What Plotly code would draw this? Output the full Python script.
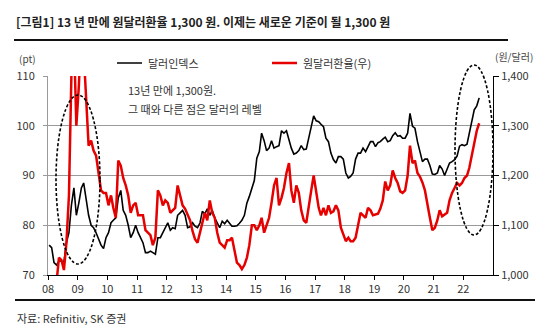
import pandas as pd
import plotly.graph_objects as go

# ---------------- data (monthly) ----------------
start_month = "2008-01-01"

dollar_index = [
    76.0, 75.5, 72.5, 72.0, 72.8, 72.8, 72.6, 76.5, 78.5, 84.0, 87.5, 82.0,   # 2008
    84.5, 87.5, 88.5, 85.0, 82.0, 80.0, 79.5, 78.5, 77.0, 76.0, 75.3, 77.5,   # 2009
    78.5, 80.5, 81.0, 81.5, 85.5, 87.0, 83.0, 82.0, 80.0, 77.5, 78.5, 80.0,   # 2010
    78.5, 77.5, 76.5, 74.5, 74.5, 74.8, 74.5, 74.2, 77.5, 77.5, 78.5, 79.5,   # 2011
    80.5, 79.0, 79.5, 79.3, 82.0, 82.5, 83.0, 82.0, 79.5, 79.7, 80.5, 79.8,   # 2012
    79.5, 80.5, 82.8, 82.3, 83.3, 82.0, 83.0, 81.5, 80.5, 79.5, 80.8, 80.3,   # 2013
    81.0, 80.3, 79.8, 79.8, 79.9, 80.4, 81.0, 82.0, 84.5, 85.8, 87.5, 89.0,   # 2014
    93.5, 94.8, 98.5, 97.0, 95.0, 95.5, 97.0, 95.5, 95.8, 96.0, 99.0, 98.5,   # 2015
    99.0, 97.0, 95.5, 94.3, 94.5, 95.0, 96.0, 95.2, 95.3, 97.5, 99.5, 102.0,  # 2016
    101.0, 100.8, 100.3, 99.8, 97.5, 96.8, 94.5, 93.2, 92.5, 93.8, 93.8, 93.3, # 2017
    90.5, 89.5, 89.8, 90.5, 93.3, 94.5, 94.5, 95.5, 94.8, 95.8, 96.8, 96.8,   # 2018
    95.8, 96.6, 96.8, 97.3, 97.7, 96.8, 97.0, 98.0, 98.6, 97.9, 98.0, 97.5,   # 2019
    97.5, 98.5, 102.5, 99.9, 99.5, 96.8, 95.0, 92.8, 93.3, 93.3, 92.0, 90.3,  # 2020
    90.2, 90.5, 92.0, 91.3, 90.0, 91.2, 92.5, 92.8, 93.2, 93.9, 95.9, 96.2,   # 2021
    96.0, 96.3, 98.3, 100.5, 103.2, 104.0, 105.6,                             # 2022
]

krw_usd = [
    942, 945, 990, 985, 1035, 1030, 1010, 1065, 1160, 1400, 1480, 1300,       # 2008
    1380, 1500, 1450, 1340, 1260, 1270, 1250, 1240, 1200, 1170, 1165, 1165,   # 2009
    1140, 1160, 1135, 1115, 1230, 1220, 1195, 1180, 1160, 1125, 1140, 1145,   # 2010
    1120, 1120, 1120, 1090, 1085, 1080, 1060, 1075, 1170, 1160, 1140, 1150,   # 2011
    1145, 1125, 1130, 1135, 1180, 1160, 1140, 1133, 1120, 1110, 1088, 1072,   # 2012
    1065, 1085, 1105, 1125, 1110, 1150, 1125, 1115, 1085, 1065, 1060, 1055,   # 2013
    1070, 1070, 1075, 1045, 1025, 1020, 1012, 1020, 1035, 1060, 1100, 1100,   # 2014
    1090, 1100, 1115, 1085, 1100, 1115, 1145, 1180, 1195, 1140, 1155, 1175,   # 2015
    1205, 1225, 1170, 1145, 1180, 1165, 1130, 1110, 1105, 1140, 1170, 1200,   # 2016
    1165, 1135, 1120, 1135, 1120, 1140, 1125, 1128, 1140, 1130, 1095, 1080,   # 2017
    1068, 1075, 1068, 1068, 1075, 1100, 1125, 1120, 1115, 1135, 1130, 1120,   # 2018
    1122, 1123, 1133, 1150, 1188, 1170, 1180, 1210, 1195, 1185, 1168, 1165,   # 2019
    1170, 1200, 1260, 1225, 1230, 1205, 1198, 1186, 1170, 1140, 1115, 1090,   # 2020
    1095, 1110, 1130, 1118, 1122, 1125, 1150, 1165, 1175, 1185, 1180, 1185,   # 2021
    1195, 1200, 1215, 1240, 1265, 1290, 1305,                                 # 2022
]

year_ticks = [str(y) for y in range(2008, 2023)]
year_tick_labels = ["08", "09", "10", "11", "12", "13", "14", "15",
                    "16", "17", "18", "19", "20", "21", "22"]
left_ticks = [70, 80, 90, 100, 110]
right_ticks = [1000, 1100, 1200, 1300, 1400]

series_names = ["달러인덱스", "원달러환율(우)"]
title_text = "[그림1] 13 년 만에 원달러환율 1,300 원. 이제는 새로운 기준이 될 1,300 원"
note_lines = ["13년 만에 1,300원.", "그 때와 다른 점은 달러의 레벨"]
source_text = "자료: Refinitiv, SK 증권"

# ---------------- figure ----------------
dates = pd.date_range(start_month, periods=len(dollar_index), freq="MS") + pd.Timedelta(days=14)

W, H = 550, 334
L, R, T, B = 48, 57, 76, 59
PW, PH = W - L - R, H - T - B


def px(x):
    return (x - L) / PW


def py(y):
    return (H - B - y) / PH


FONT = "Noto Sans CJK KR"

fig = go.Figure()
fig.add_trace(go.Scatter(x=dates, y=dollar_index, mode="lines", name=series_names[0],
                         line=dict(color="#000000", width=1.6), yaxis="y"))
fig.add_trace(go.Scatter(x=dates, y=krw_usd, mode="lines", name=series_names[1],
                         line=dict(color="#e60000", width=2.5), yaxis="y2"))

fig.update_layout(
    width=W, height=H,
    margin=dict(l=L, r=R, t=T, b=B, pad=0),
    paper_bgcolor="white", plot_bgcolor="white",
    showlegend=False,
    font=dict(family=FONT, size=11, color="#333333"),
    xaxis=dict(
        range=["2008-01-01", "2023-01-01"],
        tickvals=year_ticks, ticktext=year_tick_labels,
        showgrid=False, zeroline=False,
        showline=True, linecolor="#000000", linewidth=1,
        ticks="outside", ticklen=4, tickcolor="#000000",
        tickfont=dict(size=11, color="#333333"),
    ),
    yaxis=dict(
        range=[70, 110], tickvals=left_ticks,
        showgrid=True, gridcolor="#9a9a9a", gridwidth=1,
        zeroline=False,
        showline=True, linecolor="#9a9a9a", linewidth=1,
        ticks="outside", ticklen=4, tickcolor="#9a9a9a",
        tickfont=dict(size=11, color="#333333"),
        ticklabelstandoff=6,
    ),
    yaxis2=dict(
        range=[1000, 1400], tickvals=right_ticks, tickformat=",",
        overlaying="y", side="right",
        showgrid=False, zeroline=False,
        showline=True, linecolor="#000000", linewidth=1,
        ticks="outside", ticklen=5, tickcolor="#000000",
        tickfont=dict(size=11, color="#333333"),
    ),
)

shapes = []
# rules
shapes.append(dict(type="line", xref="paper", yref="paper",
                   x0=px(14), x1=px(508), y0=py(40), y1=py(40),
                   line=dict(color="#111111", width=2)))
shapes.append(dict(type="line", xref="paper", yref="paper",
                   x0=px(15), x1=px(535), y0=py(300), y1=py(300),
                   line=dict(color="#111111", width=2)))
# legend lines
shapes.append(dict(type="line", xref="paper", yref="paper",
                   x0=px(117), x1=px(142), y0=py(63), y1=py(63),
                   line=dict(color="#000000", width=1.5)))
shapes.append(dict(type="line", xref="paper", yref="paper",
                   x0=px(272), x1=px(297), y0=py(63), y1=py(63),
                   line=dict(color="#e60000", width=2.5)))
# dashed ellipses
shapes.append(dict(type="circle", xref="paper", yref="paper",
                   x0=px(56), x1=px(100), y0=py(264), y1=py(95),
                   line=dict(color="#000000", width=1.6, dash="3px,2px")))
shapes.append(dict(type="circle", xref="paper", yref="paper",
                   x0=px(455), x1=px(493), y0=py(235), y1=py(65),
                   line=dict(color="#000000", width=1.6, dash="3px,2px")))
fig.update_layout(shapes=shapes)

ann = []
ann.append(dict(text=title_text, xref="paper", yref="paper", x=px(14), y=py(22),
                xanchor="left", yanchor="middle", showarrow=False,
                font=dict(family=FONT, size=12, color="#222222", weight="bold")))
ann.append(dict(text="(pt)", xref="paper", yref="paper", x=px(17), y=py(58),
                xanchor="left", yanchor="middle", showarrow=False,
                font=dict(size=10, color="#444444")))
ann.append(dict(text="(원/달러)", xref="paper", yref="paper", x=px(535), y=py(57),
                xanchor="right", yanchor="middle", showarrow=False,
                font=dict(size=10, color="#444444")))
ann.append(dict(text=series_names[0], xref="paper", yref="paper", x=px(146), y=py(63),
                xanchor="left", yanchor="middle", showarrow=False,
                font=dict(size=11, color="#333333")))
ann.append(dict(text=series_names[1], xref="paper", yref="paper", x=px(301), y=py(63),
                xanchor="left", yanchor="middle", showarrow=False,
                font=dict(size=11, color="#333333")))
ann.append(dict(text=note_lines[0], xref="paper", yref="paper", x=px(126), y=py(90),
                xanchor="left", yanchor="middle", showarrow=False,
                font=dict(size=11, color="#333333")))
ann.append(dict(text=note_lines[1], xref="paper", yref="paper", x=px(126), y=py(109),
                xanchor="left", yanchor="middle", showarrow=False,
                font=dict(size=11, color="#333333")))
ann.append(dict(text=source_text, xref="paper", yref="paper", x=px(15), y=py(318),
                xanchor="left", yanchor="middle", showarrow=False,
                font=dict(size=11, color="#333333")))
fig.update_layout(annotations=ann)

fig.write_html("out.html")
